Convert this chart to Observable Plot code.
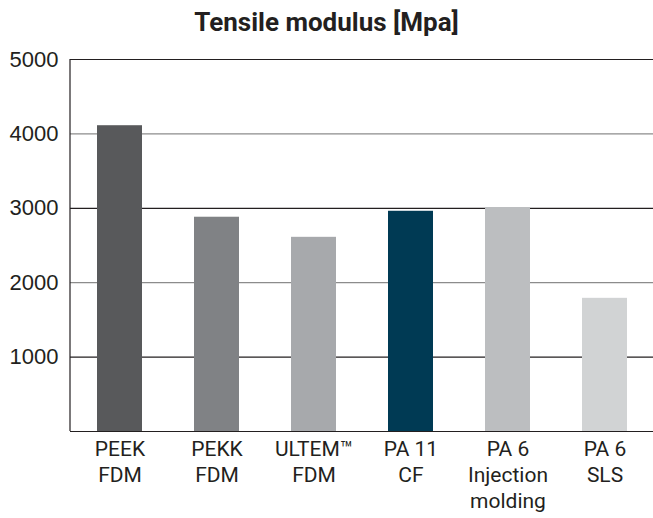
<!DOCTYPE html>
<html>
<head>
<meta charset="utf-8">
<script src="https://cdn.jsdelivr.net/npm/d3@7"></script>
<script src="https://cdn.jsdelivr.net/npm/@observablehq/plot@0.6"></script>
<style>
  html, body { margin: 0; padding: 0; background: #fff; }
  #title { width: 653px; height: 45px; text-align: center; font-family: Roboto, sans-serif; font-weight: 700; font-size: 26px; line-height: 44px; color: #231f20; }
  #chart svg { display: block; }
</style>
</head>
<body>
<div id="title">Tensile modulus [Mpa]</div>
<div id="chart"></div>
<script>
const categories = ["PEEK\nFDM", "PEKK\nFDM", "ULTEM\u2122\nFDM", "PA 11\nCF", "PA 6\nInjection\nmolding", "PA 6\nSLS"];
const values = [4110, 2880, 2610, 2960, 3010, 1790];
const yTicks = [1000, 2000, 3000, 4000, 5000];

const palette = ["#58595b", "#808285", "#a7a9ac", "#003a54", "#bcbec0", "#d1d3d4"];
const gridColors = ["#231f20", "#8c8c8c", "#231f20", "#8c8c8c", "#231f20"];

const data = categories.map((c, i) => ({name: c, value: values[i]}));
const grid = yTicks.map((t, i) => ({t, c: gridColors[i]}));

const chart = Plot.plot({
  width: 653,
  height: 473,
  marginLeft: 70,
  marginRight: 0,
  marginTop: 14,
  marginBottom: 87,
  style: {fontFamily: "Roboto, sans-serif", color: "#231f20", background: "#fff"},
  x: {domain: categories, paddingInner: 0.54, paddingOuter: 0.26, label: null, axis: null},
  y: {domain: [0, 5000], axis: null},
  color: {type: "ordinal", domain: categories, range: palette},
  marks: [
    Plot.ruleY(grid, {y: "t", stroke: "c", strokeWidth: 1.2}),
    Plot.barY(data, {x: "name", y: "value", fill: "name"}),
    Plot.ruleY([0], {stroke: "#231f20", strokeWidth: 1.2}),
    Plot.axisY({ticks: yTicks, tickSize: 0, tickPadding: 12, label: null, fontSize: 22, fontFamily: "Liberation Sans, Arial, sans-serif", fill: "#231f20", tickFormat: d => String(d)}),
    Plot.axisX({tickSize: 0, tickPadding: 6, label: null, fontSize: 21, lineHeight: 1.24, fill: "#231f20"})
  ]
});
// left axis line
d3.select(chart).append("line").attr("x1", 70).attr("x2", 70).attr("y1", 14).attr("y2", 386)
  .attr("stroke", "#231f20").attr("stroke-width", 1.2);
document.getElementById("chart").appendChild(chart);
</script>
</body>
</html>
